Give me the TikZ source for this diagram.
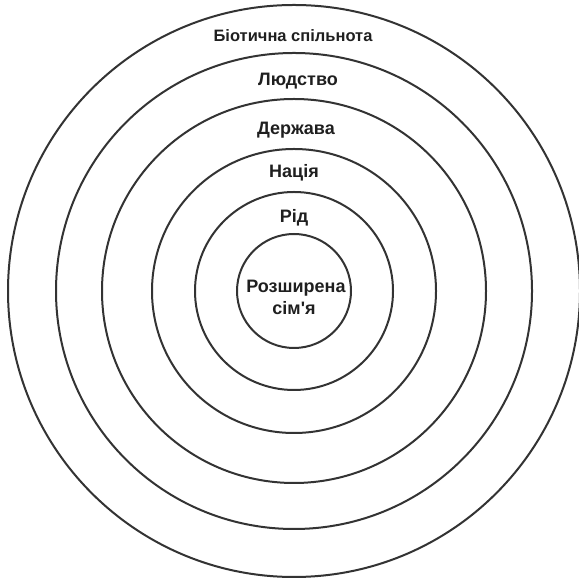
\documentclass[tikz,border=0pt]{standalone}
\usepackage{fontspec}
\setmainfont{Liberation Sans}
\font\lblfont="Liberation Sans/B" at 18pt
\font\lblsmall="Liberation Sans/B" at 16.5pt
\begin{document}
\begin{tikzpicture}[x=1pt,y=1pt,
  ring/.style={circle,draw=black!80,line width=2pt,inner sep=0pt},
  lbl/.style={text=black!88,font=\lblfont,inner sep=0pt,anchor=base}]
\useasboundingbox (0,0) rectangle (578,580);
\coordinate (c) at (294,289);
\node[ring,minimum size=572] (r1) at (c) {};
\node[ring,minimum size=476] (r2) at (c) {};
\node[ring,minimum size=384] (r3) at (c) {};
\node[ring,minimum size=284] (r4) at (c) {};
\node[ring,minimum size=198] (r5) at (c) {};
\node[ring,minimum size=114] (r6) at (c) {};
\node[lbl,font=\lblsmall] (t1) at (293,538.3) {Біотична спільнота};
\node[lbl] (t2) at (298,494) {Людство};
\node[lbl] (t3) at (296,445) {Держава};
\node[lbl] (t4) at (294,402) {Нація};
\node[lbl] (t5) at (294,357) {Рід};
\node[lbl] (t6) at (296,287) {Розширена};
\node[lbl] (t7) at (294,265) {сім'я};
\end{tikzpicture}
\end{document}
